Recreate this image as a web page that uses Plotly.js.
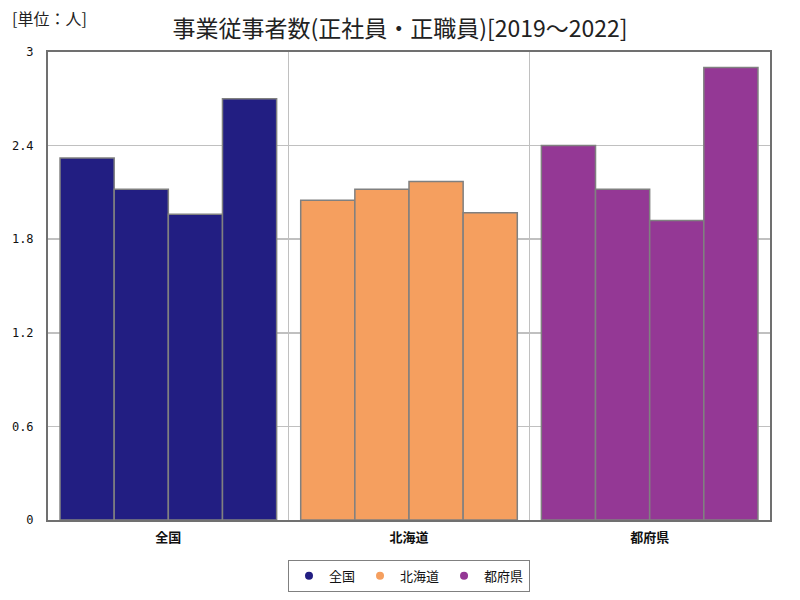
<!DOCTYPE html>
<html>
<head>
<meta charset="utf-8">
<script src="https://cdn.plot.ly/plotly-3.0.1.min.js"></script>
<style>
  body { margin: 0; background: #fff; }
  #chart { width: 800px; height: 600px; }
</style>
</head>
<body>
<div id="chart"></div>
<script>
// regions (x categories) and years (one bar per year inside each region)
let regions = ['全国', '北海道', '都府県'];
let regionColors = ['#221e82', '#f59f5f', '#943895'];
let years = ['2019', '2020', '2021', '2022'];

// values read per year, order = regions
let v2019 = [2.32, 2.05, 2.40];
let v2020 = [2.12, 2.12, 2.12];
let v2021 = [1.96, 2.17, 1.92];
let v2022 = [2.70, 1.97, 2.90];

let yearValues = [v2019, v2020, v2021, v2022];

let data = [];

// one bar trace per year, coloured by region
for (let i = 0; i < years.length; i++) {
    data.push({
        type: 'bar',
        name: years[i],
        x: regions,
        y: yearValues[i],
        marker: {
            color: regionColors,
            line: { color: '#808080', width: 1.5 }
        },
        showlegend: false
    });
}

// legend entries (round dots) for the regions
for (let i = 0; i < regions.length; i++) {
    data.push({
        type: 'scatter',
        mode: 'markers',
        name: regions[i],
        x: [null],
        y: [null],
        marker: { color: regionColors[i], size: 8, symbol: 'circle' },
        showlegend: true,
        hoverinfo: 'skip'
    });
}

let layout = {
    width: 800,
    height: 600,
    margin: { l: 48, r: 30, t: 52, b: 80, autoexpand: false },
    paper_bgcolor: '#ffffff',
    plot_bgcolor: '#ffffff',
    font: { family: '"Noto Sans CJK JP", sans-serif', color: '#222' },
    title: {
        text: '事業従事者数(正社員・正職員)[2019～2022]',
        font: { size: 23, color: '#222' },
        x: 0.5,
        xanchor: 'center',
        y: 0.952,
        yanchor: 'middle'
    },
    barmode: 'group',
    bargap: 0.1,
    bargroupgap: 0,
    xaxis: {
        type: 'category',
        tickson: 'boundaries',
        ticks: '',
        showgrid: true,
        gridcolor: '#c0c0c0',
        gridwidth: 1,
        showline: true,
        linecolor: '#707070',
        linewidth: 2,
        mirror: true,
        ticklabelstandoff: 4,
        tickfont: { size: 13, color: '#111', weight: 'bold' },
        fixedrange: true
    },
    yaxis: {
        range: [0, 3],
        tickvals: [0, 0.6, 1.2, 1.8, 2.4, 3],
        ticktext: ['0', '0.6', '1.2', '1.8', '2.4', '3'],
        showgrid: true,
        gridcolor: '#c0c0c0',
        gridwidth: 1.5,
        zeroline: false,
        showline: true,
        linecolor: '#707070',
        linewidth: 2,
        mirror: true,
        ticks: '',
        ticklen: 0,
        ticklabelstandoff: 10,
        tickfont: { size: 12, color: '#111', family: '"DejaVu Sans Mono", monospace' },
        fixedrange: true
    },
    showlegend: true,
    legend: {
        orientation: 'h',
        x: 0.5,
        xanchor: 'center',
        y: -0.085,
        yanchor: 'top',
        bordercolor: '#808080',
        borderwidth: 1,
        font: { size: 13, color: '#111' },
        itemwidth: 30,
        tracegroupgap: 0
    },
    annotations: [{
        text: '[単位：人]',
        xref: 'paper',
        yref: 'paper',
        x: -0.052,
        xanchor: 'left',
        y: 1.073,
        yanchor: 'middle',
        showarrow: false,
        font: { size: 16, color: '#222' }
    }]
};

Plotly.newPlot('chart', data, layout, { displayModeBar: false, staticPlot: true });
</script>
</body>
</html>
